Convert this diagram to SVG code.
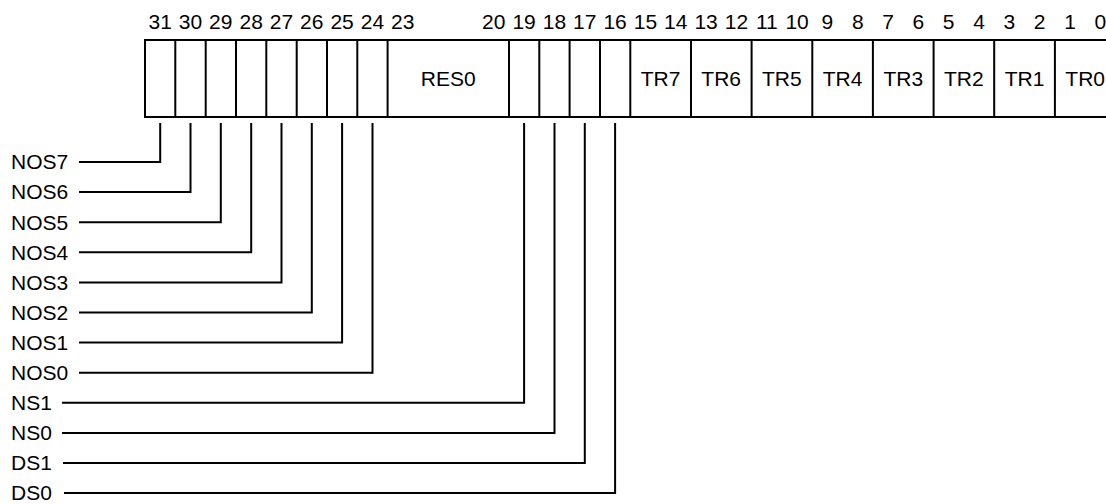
<svg xmlns="http://www.w3.org/2000/svg" width="1106" height="504" viewBox="0 0 1106 504">
<style>
text{font-family:"Liberation Sans",Arial,sans-serif;font-size:21px;fill:#000}
.c{text-anchor:middle}
.ln{fill:none;stroke:#000;stroke-width:2}
</style>
<rect width="1106" height="504" fill="#fff"/>
<g id="bitnumbers">
<text class="c" x="160.2" y="28.5">31</text>
<text class="c" x="190.5" y="28.5">30</text>
<text class="c" x="220.8" y="28.5">29</text>
<text class="c" x="251.2" y="28.5">28</text>
<text class="c" x="281.5" y="28.5">27</text>
<text class="c" x="311.8" y="28.5">26</text>
<text class="c" x="342.1" y="28.5">25</text>
<text class="c" x="372.5" y="28.5">24</text>
<text class="c" x="402.8" y="28.5">23</text>
<text class="c" x="493.8" y="28.5">20</text>
<text class="c" x="524.1" y="28.5">19</text>
<text class="c" x="554.5" y="28.5">18</text>
<text class="c" x="584.8" y="28.5">17</text>
<text class="c" x="615.1" y="28.5">16</text>
<text class="c" x="645.4" y="28.5">15</text>
<text class="c" x="675.8" y="28.5">14</text>
<text class="c" x="706.1" y="28.5">13</text>
<text class="c" x="736.4" y="28.5">12</text>
<text class="c" x="766.8" y="28.5">11</text>
<text class="c" x="797.1" y="28.5">10</text>
<text class="c" x="827.4" y="28.5">9</text>
<text class="c" x="857.8" y="28.5">8</text>
<text class="c" x="888.1" y="28.5">7</text>
<text class="c" x="918.4" y="28.5">6</text>
<text class="c" x="948.7" y="28.5">5</text>
<text class="c" x="979.1" y="28.5">4</text>
<text class="c" x="1009.4" y="28.5">3</text>
<text class="c" x="1039.7" y="28.5">2</text>
<text class="c" x="1070.1" y="28.5">1</text>
<text class="c" x="1100.4" y="28.5">0</text>
</g>
<g id="register">
<rect class="ln" x="145" y="40" width="971" height="77"/>
<path class="ln" d="M175.3 40V117M205.7 40V117M236 40V117M266.3 40V117M296.7 40V117M327 40V117M357.3 40V117M387.6 40V117M509 40V117M539.3 40V117M569.6 40V117M600 40V117M630.3 40V117M691 40V117M751.6 40V117M812.3 40V117M872.9 40V117M933.6 40V117M994.2 40V117M1054.9 40V117"/>
<text class="c" x="448.3" y="86">RES0</text>
<text class="c" x="660.6" y="86">TR7</text>
<text class="c" x="721.2" y="86">TR6</text>
<text class="c" x="781.9" y="86">TR5</text>
<text class="c" x="842.6" y="86">TR4</text>
<text class="c" x="903.3" y="86">TR3</text>
<text class="c" x="963.9" y="86">TR2</text>
<text class="c" x="1024.6" y="86">TR1</text>
<text class="c" x="1085.2" y="86">TR0</text>
</g>
<g id="labels">
<text x="11" y="169.3">NOS7</text>
<text x="11" y="199.4">NOS6</text>
<text x="11" y="229.5">NOS5</text>
<text x="11" y="259.6">NOS4</text>
<text x="11" y="289.7">NOS3</text>
<text x="11" y="319.8">NOS2</text>
<text x="11" y="349.9">NOS1</text>
<text x="11" y="380">NOS0</text>
<text x="11" y="410.1">NS1</text>
<text x="11" y="440.2">NS0</text>
<text x="11" y="470.3">DS1</text>
<text x="11" y="500.4">DS0</text>
</g>
<g id="connectors">
<path class="ln" d="M79 162H160.2V123"/>
<path class="ln" d="M79 192.1H190.5V123"/>
<path class="ln" d="M79 222.2H220.8V123"/>
<path class="ln" d="M79 252.3H251.2V123"/>
<path class="ln" d="M79 282.4H281.5V123"/>
<path class="ln" d="M79 312.5H311.8V123"/>
<path class="ln" d="M79 342.6H342.1V123"/>
<path class="ln" d="M79 372.7H372.5V123"/>
<path class="ln" d="M62 402.8H524.1V123"/>
<path class="ln" d="M62 432.9H554.5V123"/>
<path class="ln" d="M63 463H584.8V123"/>
<path class="ln" d="M64 493.1H615.1V123"/>
</g>
</svg>
